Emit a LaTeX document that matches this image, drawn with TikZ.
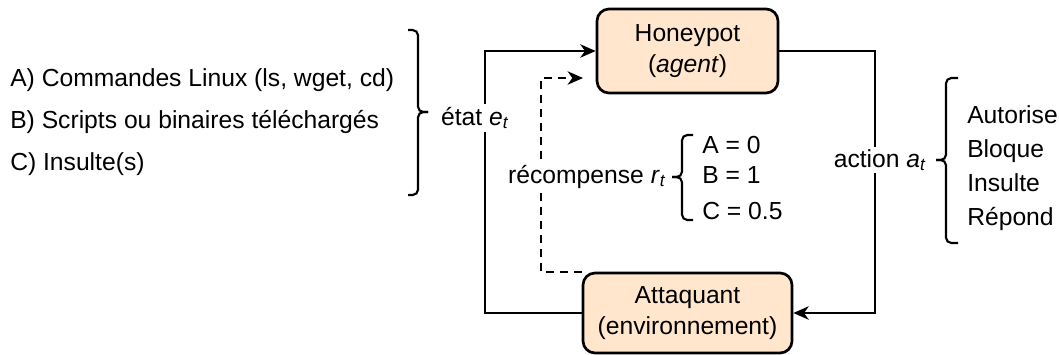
\documentclass[tikz,border=0pt]{standalone}
\usepackage{fontspec}
\setmainfont{Liberation Sans}
\usetikzlibrary{arrows.meta}
\definecolor{peach}{HTML}{FFE6CC}
\begin{document}
\begin{tikzpicture}[x=0.75pt,y=-0.75pt,
  font=\fontsize{18.5}{23}\selectfont,
  box/.style={draw=black,fill=peach,rounded corners=9pt,align=center,line width=2pt,inner sep=0pt},
  flow/.style={-{Stealth[length=11.5pt,width=10pt,inset=3.5pt]},draw=black,line width=1.6pt},
  dflow/.style={flow,dash pattern=on 6pt off 4.5pt},
  lbl/.style={fill=white,inner sep=2pt},
  brk/.style={draw=black,line width=1.6pt,rounded corners=4pt},
  lst/.style={align=left,anchor=west,inner sep=0pt}]
\useasboundingbox (0,0) rectangle (1059,354);
% boxes
\node[box,minimum width=135.75pt,minimum height=63pt] (hp) at (687.5,51) {Honeypot\\(\textit{agent})};
\node[box,minimum width=156.75pt,minimum height=60pt] (att) at (687.5,313) {Attaquant\\(environnement)};
\coordinate (rin) at (583,78);

% loop
\draw[flow] (att.west) -- ++(-97,0) |- (hp.west);
\draw[flow] (hp.east) -- ++(96,0) |- (att.east);
\draw[dflow] (att.north west) -- ++(-41,0) |- (rin);

% labels on the loop
\node[lbl] (etat) at (475,118) {état \textit{e}\textsubscript{\textit{t}}};
\node[lbl] (recomp) at (587,177) {récompense \textit{r}\textsubscript{\textit{t}}};
\node[lbl] (action) at (880,160) {action \textit{a}\textsubscript{\textit{t}}};

% lists and braces
\node[lst,font=\fontsize{18.5}{31.5}\selectfont] (cmds) at (10,122) {A) Commandes Linux (ls, wget, cd)\\B) Scripts ou binaires téléchargés\\C) Insulte(s)};
\draw[brk] (408,30) -- (418,30) -- (418,112) -- (428,112);
\draw[brk] (428,112) -- (418,112) -- (418,195) -- (408,195);
\node[lst,font=\fontsize{18.5}{22.5}\selectfont] (vals) at (702,178) {A = 0\\B = 1\\[5pt]C = 0.5};
\draw[brk] (693,135) -- (682,135) -- (682,177) -- (672,177);
\draw[brk] (672,177) -- (682,177) -- (682,220) -- (693,220);
\node[lst,font=\fontsize{18.5}{25.5}\selectfont] (acts) at (967,168) {Autorise\\Bloque\\Insulte\\Répond};
\draw[brk] (958,78) -- (946,78) -- (946,160) -- (936,160);
\draw[brk] (936,160) -- (946,160) -- (946,243) -- (958,243);
\end{tikzpicture}
\end{document}
